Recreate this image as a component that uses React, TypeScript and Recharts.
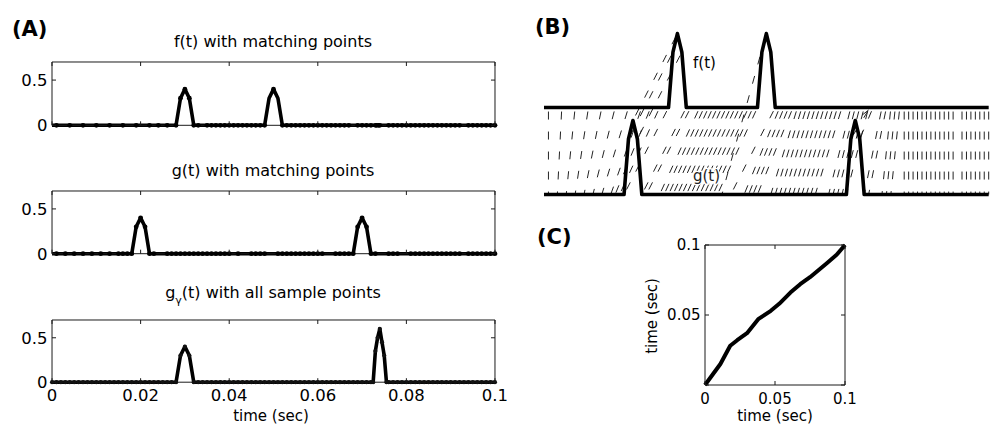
import React from 'react';
import { ComposedChart, Line, Scatter, XAxis, YAxis, ReferenceLine } from 'recharts';

const FONT = "'DejaVu Sans', 'Liberation Sans', sans-serif";

// ---------------- Panel A data ----------------
const timeTicks = [0, 0.02, 0.04, 0.06, 0.08, 0.1];
const ampTicks = [0, 0.5];

const fCurveT = [0, 0.028, 0.029, 0.03, 0.031, 0.032, 0.048, 0.049, 0.05, 0.051, 0.052, 0.1];
const fCurveV = [0, 0, 0.3, 0.4, 0.3, 0, 0, 0.3, 0.4, 0.3, 0, 0];

const gCurveT = [0, 0.018, 0.019, 0.02, 0.021, 0.022, 0.068, 0.069, 0.07, 0.071, 0.072, 0.1];
const gCurveV = [0, 0, 0.3, 0.4, 0.3, 0, 0, 0.3, 0.4, 0.3, 0, 0];

const gwCurveT = [0, 0.028, 0.029, 0.03, 0.031, 0.032, 0.0725, 0.073, 0.0735, 0.074, 0.0745, 0.075, 0.0755, 0.1];
const gwCurveV = [0, 0, 0.3, 0.4, 0.3, 0, 0, 0.35, 0.5, 0.6, 0.45, 0.3, 0, 0];

// all sample points of g_gamma that sit on zero
const gwZeroT = [
  0, 0.001, 0.002, 0.003, 0.004, 0.005, 0.006, 0.007, 0.008, 0.009,
  0.01, 0.011, 0.012, 0.013, 0.014, 0.015, 0.016, 0.017, 0.018, 0.019,
  0.02, 0.021, 0.022, 0.023, 0.024, 0.025, 0.026, 0.027,
  0.033, 0.034, 0.035, 0.036, 0.037, 0.038, 0.039, 0.04, 0.041, 0.042,
  0.043, 0.044, 0.045, 0.046, 0.047, 0.048, 0.049, 0.05, 0.051, 0.052,
  0.053, 0.054, 0.055, 0.056, 0.057, 0.058, 0.059, 0.06, 0.061, 0.062,
  0.063, 0.064, 0.065, 0.066, 0.067, 0.068, 0.069, 0.07, 0.071, 0.072,
  0.076, 0.077, 0.078, 0.079, 0.08, 0.081, 0.082, 0.083, 0.084, 0.085,
  0.086, 0.087, 0.088, 0.089, 0.09, 0.091, 0.092, 0.093, 0.094, 0.095,
  0.096, 0.097, 0.098, 0.099, 0.1,
];

// matching points: f sample i is matched to g sample i
const matchFT = [
  0.001, 0.004, 0.007, 0.01, 0.013, 0.016, 0.019, 0.022, 0.024, 0.026,
  0.028, 0.029, 0.03, 0.031, 0.032,
  0.033, 0.035, 0.036, 0.037, 0.038, 0.039, 0.04, 0.041, 0.042, 0.043, 0.044, 0.045, 0.046, 0.047, 0.048,
  0.05, 0.052,
  0.053, 0.054, 0.055, 0.056, 0.057, 0.058, 0.059, 0.06, 0.061, 0.062, 0.063, 0.064, 0.065, 0.066, 0.067,
  0.069, 0.07, 0.071, 0.072, 0.073,
  0.0733, 0.0737, 0.074,
  0.076, 0.077,
  0.078, 0.079, 0.08,
  0.081, 0.082, 0.083, 0.084, 0.085, 0.086, 0.087, 0.088, 0.089, 0.09, 0.091, 0.092,
  0.094, 0.095, 0.096, 0.097, 0.098, 0.099, 0.1,
];
const matchFV = [
  0, 0, 0, 0, 0, 0, 0, 0, 0, 0,
  0, 0.3, 0.4, 0.3, 0,
  0, 0, 0, 0, 0, 0, 0, 0, 0, 0, 0, 0, 0, 0, 0,
  0.4, 0,
  0, 0, 0, 0, 0, 0, 0, 0, 0, 0, 0, 0, 0, 0, 0,
  0, 0, 0, 0, 0,
  0, 0, 0,
  0, 0,
  0, 0, 0,
  0, 0, 0, 0, 0, 0, 0, 0, 0, 0, 0, 0,
  0, 0, 0, 0, 0, 0, 0,
];
const matchGT = [
  0.001, 0.003, 0.005, 0.007, 0.009, 0.011, 0.013, 0.015, 0.016, 0.017,
  0.018, 0.019, 0.02, 0.021, 0.022,
  0.023, 0.026, 0.027, 0.028, 0.029, 0.03, 0.031, 0.032, 0.033, 0.034, 0.035, 0.036, 0.037, 0.038, 0.039,
  0.04, 0.042,
  0.045, 0.046, 0.047, 0.048, 0.051, 0.052, 0.053, 0.054, 0.055, 0.056, 0.057, 0.058, 0.059, 0.06, 0.061,
  0.064, 0.065, 0.066, 0.067, 0.068,
  0.069, 0.07, 0.071,
  0.072, 0.073,
  0.076, 0.077, 0.078,
  0.081, 0.082, 0.083, 0.084, 0.085, 0.086, 0.087, 0.088, 0.089, 0.09, 0.091, 0.092,
  0.094, 0.095, 0.096, 0.097, 0.098, 0.099, 0.1,
];
const matchGV = [
  0, 0, 0, 0, 0, 0, 0, 0, 0, 0,
  0, 0.3, 0.4, 0.3, 0,
  0, 0, 0, 0, 0, 0, 0, 0, 0, 0, 0, 0, 0, 0, 0,
  0, 0,
  0, 0, 0, 0, 0, 0, 0, 0, 0, 0, 0, 0, 0, 0, 0,
  0, 0, 0, 0, 0,
  0.3, 0.4, 0.3,
  0, 0,
  0, 0, 0,
  0, 0, 0, 0, 0, 0, 0, 0, 0, 0, 0, 0,
  0, 0, 0, 0, 0, 0, 0,
];

// ---------------- Panel B ----------------
const F_OFFSET = 0.47;

// ---------------- Panel C data ----------------
const warpTicks = [0, 0.05, 0.1];
const warpT = [0, 0.011, 0.018, 0.023, 0.03, 0.038, 0.047, 0.053, 0.061, 0.068, 0.075, 0.081, 0.087, 0.094, 0.1];
const warpV = [0, 0.015, 0.028, 0.032, 0.037, 0.047, 0.053, 0.058, 0.066, 0.072, 0.077, 0.082, 0.087, 0.093, 0.1];

// ---------------- helpers ----------------
const zip = (ts: number[], vs: number[]) => ts.map((t, i) => ({ t, v: vs[i] }));

const TICK_LEN = 4;
const AX_COLOR = '#1a1a1a';

type Side = 'bottom' | 'top' | 'left' | 'right';
function makeTick(side: Side, fs: number, fmt?: (v: number) => string) {
  return (props: any) => {
    const { x, y, payload } = props;
    const v = payload ? payload.value : 0;
    const label = fmt ? fmt(v) : '';
    let line: React.ReactNode = null;
    let text: React.ReactNode = null;
    const tprops = { fontFamily: FONT, fontSize: fs, fill: '#000' };
    if (side === 'bottom') {
      line = <line x1={x} y1={y} x2={x} y2={y - TICK_LEN} stroke={AX_COLOR} strokeWidth={1} />;
      if (label) text = <text x={x} y={y + 19} textAnchor="middle" {...tprops}>{label}</text>;
    } else if (side === 'top') {
      line = <line x1={x} y1={y} x2={x} y2={y + TICK_LEN} stroke={AX_COLOR} strokeWidth={1} />;
    } else if (side === 'left') {
      line = <line x1={x} y1={y} x2={x + TICK_LEN} y2={y} stroke={AX_COLOR} strokeWidth={1} />;
      if (label) text = <text x={x - 4.5} y={y + fs * 0.36} textAnchor="end" {...tprops}>{label}</text>;
    } else {
      line = <line x1={x} y1={y} x2={x - TICK_LEN} y2={y} stroke={AX_COLOR} strokeWidth={1} />;
    }
    return <g>{line}{text}</g>;
  };
}

const fmtAll = (v: number) => String(v);
const fmtNoZero = (v: number) => (v === 0 ? '' : String(v));

type Rect = { x: number; y: number; w: number; h: number };
type Pad = { l: number; r: number; t: number; b: number };

function BoxPlot(props: {
  rect: Rect;
  pad: Pad;
  xDomain: number[];
  yDomain: number[];
  xTicks: number[];
  yTicks: number[];
  tickFs: number;
  xFmt?: (v: number) => string;
  yFmt?: (v: number) => string;
  children?: React.ReactNode;
}) {
  const { rect, pad, xDomain, yDomain, xTicks, yTicks, tickFs, xFmt, yFmt, children } = props;
  const width = rect.w + pad.l + pad.r;
  const height = rect.h + pad.t + pad.b;
  const axisLine = { stroke: AX_COLOR, strokeWidth: 1 };
  const dummy = [
    { t: xDomain[0], v: yDomain[0] },
    { t: xDomain[1], v: yDomain[0] },
  ];
  return (
    <div style={{ position: 'absolute', left: rect.x - pad.l, top: rect.y - pad.t, width, height }}>
      <ComposedChart
        width={width}
        height={height}
        margin={{ left: pad.l - 1, right: pad.r - 1, top: pad.t - 1, bottom: pad.b - 1 }}
        style={{ overflow: 'visible' }}
      >
        <XAxis xAxisId="b" type="number" dataKey="t" orientation="bottom" domain={xDomain} ticks={xTicks}
          height={1} tickSize={0} tickMargin={0} tickLine={false} interval={0} axisLine={axisLine}
          tick={makeTick('bottom', tickFs, xFmt)} />
        <XAxis xAxisId="t" type="number" dataKey="t" orientation="top" domain={xDomain} ticks={xTicks}
          height={1} tickSize={0} tickMargin={0} tickLine={false} interval={0} axisLine={axisLine}
          tick={makeTick('top', tickFs)} />
        <YAxis yAxisId="l" type="number" dataKey="v" orientation="left" domain={yDomain} ticks={yTicks}
          width={1} tickSize={0} tickMargin={0} tickLine={false} interval={0} axisLine={axisLine}
          tick={makeTick('left', tickFs, yFmt)} />
        <YAxis yAxisId="r" type="number" dataKey="v" orientation="right" domain={yDomain} ticks={yTicks}
          width={1} tickSize={0} tickMargin={0} tickLine={false} interval={0} axisLine={axisLine}
          tick={makeTick('right', tickFs)} />
        <Line xAxisId="t" yAxisId="r" data={dummy} dataKey="v" stroke="none" dot={false}
          activeDot={false} isAnimationActive={false} />
        {children}
      </ComposedChart>
    </div>
  );
}

const dotShape = (p: any) => <circle cx={p.cx} cy={p.cy} r={2.4} fill="#000" />;
const dotShapeSmall = (p: any) => <circle cx={p.cx} cy={p.cy} r={2.1} fill="#111" />;

const padA: Pad = { l: 50, r: 12, t: 10, b: 26 };

function SignalPanel({ rect, curve, dots, xFmt, small }: {
  rect: Rect; curve: { t: number; v: number }[]; dots: { t: number; v: number }[]; xFmt?: (v: number) => string; small?: boolean;
}) {
  return (
    <BoxPlot rect={rect} pad={padA} xDomain={[0, 0.1]} yDomain={[0, 0.7]} xTicks={timeTicks} yTicks={ampTicks}
      tickFs={16.5} xFmt={xFmt} yFmt={fmtAll}>
      <Line xAxisId="b" yAxisId="l" data={curve} dataKey="v" type="linear" stroke="#000" strokeWidth={3.6}
        dot={false} activeDot={false} isAnimationActive={false} strokeLinejoin="round" />
      <Scatter xAxisId="b" yAxisId="l" data={dots} dataKey="v" shape={small ? dotShapeSmall : dotShape}
        isAnimationActive={false} />
    </BoxPlot>
  );
}

export default function App() {
  const fCurve = zip(fCurveT, fCurveV);
  const gCurve = zip(gCurveT, gCurveV);
  const gwCurve = zip(gwCurveT, gwCurveV);
  const fDots = zip(matchFT, matchFV);
  const gDots = zip(matchGT, matchGV);
  const gwDots = [
    ...gwZeroT.map((t) => ({ t, v: 0 })),
    ...gwCurve.filter((p) => p.t > 0.0275 && p.t < 0.0325),
    ...gwCurve.filter((p) => p.t > 0.072 && p.t < 0.076),
  ];

  const fCurveB = fCurveT.map((t, i) => ({ t, v: fCurveV[i] + F_OFFSET }));
  const gCurveB = gCurve;

  const rectB: Rect = { x: 544.3, y: 27.8, w: 444.7, h: 166.5 };
  const padB = 10;

  const textStyle = { fontFamily: FONT, fill: '#000' };

  return (
    <div style={{ position: 'absolute', left: 0, top: 0, width: 991, height: 425, background: '#fff', overflow: 'hidden' }}>
      {/* Panel A */}
      <SignalPanel rect={{ x: 52, y: 62, w: 443, h: 63.3 }} curve={fCurve} dots={fDots} />
      <SignalPanel rect={{ x: 52, y: 191, w: 443, h: 62.7 }} curve={gCurve} dots={gDots} />
      <SignalPanel rect={{ x: 52, y: 319.5, w: 443, h: 62.2 }} curve={gwCurve} dots={gwDots} xFmt={fmtAll} small />

      {/* Panel B */}
      <div style={{ position: 'absolute', left: rectB.x - padB, top: rectB.y - padB }}>
        <ComposedChart width={rectB.w + 2 * padB} height={rectB.h + 2 * padB}
          margin={{ left: padB, right: padB, top: padB, bottom: padB }} style={{ overflow: 'visible' }}>
          <XAxis type="number" dataKey="t" domain={[0, 0.1]} hide />
          <YAxis type="number" dataKey="v" domain={[0, 0.9]} hide />
          {matchFT.map((t, i) => (
            <ReferenceLine key={'m' + i}
              segment={[{ x: t, y: matchFV[i] + F_OFFSET }, { x: matchGT[i], y: matchGV[i] }]}
              stroke="#222" strokeWidth={1} strokeDasharray="8 12" strokeDashoffset={-4} ifOverflow="visible" />
          ))}
          <Line data={fCurveB} dataKey="v" type="linear" stroke="#000" strokeWidth={3.6} dot={false}
            activeDot={false} isAnimationActive={false} strokeLinejoin="round" />
          <Line data={gCurveB} dataKey="v" type="linear" stroke="#000" strokeWidth={3.6} dot={false}
            activeDot={false} isAnimationActive={false} strokeLinejoin="round" />
        </ComposedChart>
      </div>

      {/* Panel C */}
      <BoxPlot rect={{ x: 704.5, y: 244.5, w: 140, h: 140 }} pad={{ l: 52, r: 14, t: 10, b: 26 }}
        xDomain={[0, 0.1]} yDomain={[0, 0.1]} xTicks={warpTicks} yTicks={warpTicks} tickFs={15}
        xFmt={fmtAll} yFmt={fmtNoZero}>
        <Line xAxisId="b" yAxisId="l" data={zip(warpT, warpV)} dataKey="v" type="linear" stroke="#000"
          strokeWidth={4} dot={false} activeDot={false} isAnimationActive={false} strokeLinejoin="round" />
      </BoxPlot>

      {/* Text overlay */}
      <svg width={991} height={425} style={{ position: 'absolute', left: 0, top: 0, pointerEvents: 'none' }}>
        <text x={12} y={35.5} fontSize={21} fontWeight="bold" {...textStyle}>(A)</text>
        <text x={535} y={34} fontSize={21} fontWeight="bold" {...textStyle}>(B)</text>
        <text x={537} y={244} fontSize={21} fontWeight="bold" {...textStyle}>(C)</text>

        <text x={273} y={47} fontSize={16} textAnchor="middle" {...textStyle}>f(t) with matching points</text>
        <text x={273} y={176} fontSize={16} textAnchor="middle" {...textStyle}>g(t) with matching points</text>
        <text x={273} y={298} fontSize={16} textAnchor="middle" {...textStyle}>
          g<tspan fontSize={11} dy={6}>γ</tspan><tspan dy={-6}>(t) with all sample points</tspan>
        </text>
        <text x={271} y={421} fontSize={15} textAnchor="middle" {...textStyle}>time (sec)</text>

        <text x={693} y={68} fontSize={15} {...textStyle}>f(t)</text>
        <text x={693} y={181} fontSize={15} fill="#222" stroke="#fff" strokeWidth={2.5}
          paintOrder="stroke" fontFamily={FONT}>g(t)</text>

        <text x={775} y={421} fontSize={15} textAnchor="middle" {...textStyle}>time (sec)</text>
        <text x={657} y={316} fontSize={15} textAnchor="middle" transform="rotate(-90, 657, 316)" {...textStyle}>time (sec)</text>
      </svg>
    </div>
  );
}
